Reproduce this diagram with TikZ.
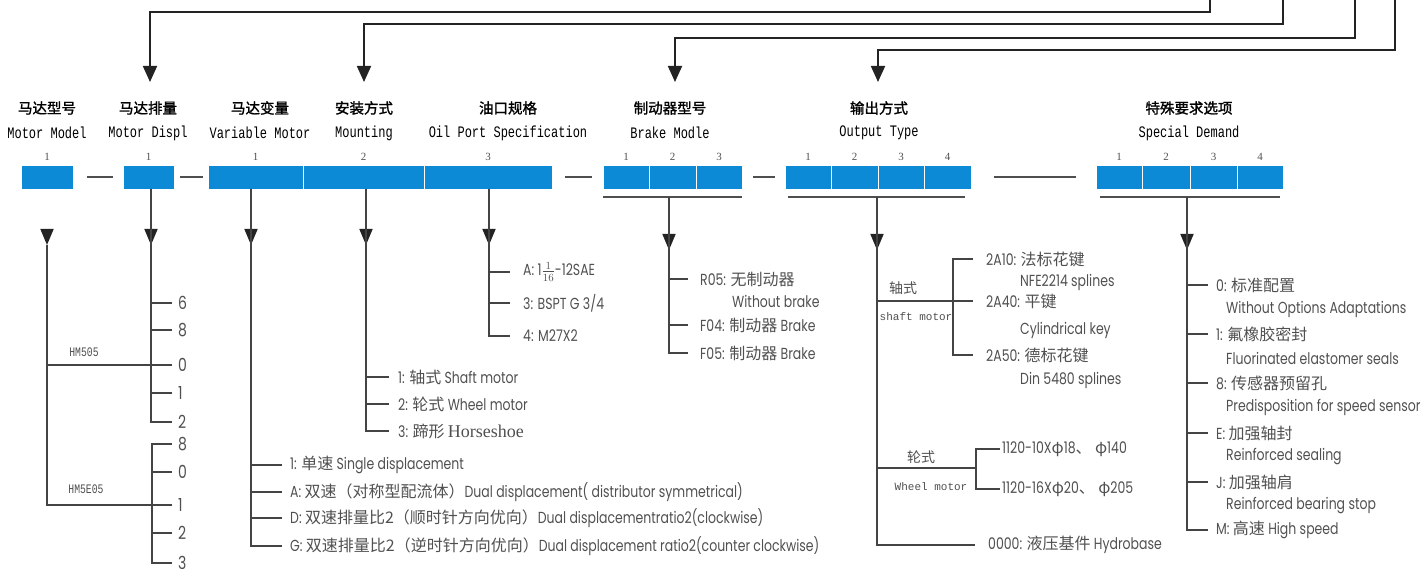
\documentclass[tikz,border=0pt]{standalone}
\usepackage{fontspec}
\setmainfont{Poppins}[FakeStretch=0.78]
\newfontfamily\cjk{Noto Sans CJK SC}
\newfontfamily\cjkb{Noto Sans CJK SC}[FakeBold=1.5]
\newfontfamily\mono{Liberation Mono}[FakeStretch=0.75]
\newfontfamily\tmono{Liberation Mono}
\newfontfamily\serif{Liberation Serif}
\usetikzlibrary{arrows.meta,positioning}
\definecolor{boxblue}{RGB}{12,138,214}
\definecolor{ink}{RGB}{35,35,35}
\definecolor{txt}{RGB}{80,80,80}
\tikzset{
	cell/.style={fill=boxblue, draw=white, line width=0.8pt, minimum height=24pt, inner sep=0pt},
	feed/.style={draw=ink, line width=1.8pt, -{Triangle[width=14pt,length=16pt]}},
	branch/.style={draw=ink!85, line width=1.7pt},
	joint/.style={draw=ink!80, line width=1.8pt},
	tip/.style={draw=ink, line width=1.7pt, -{Triangle[width=13pt,length=16pt]}},
	lbl/.style={anchor=west, inner sep=0pt, text=txt, font=\fontsize{16}{18}\selectfont},
	dig/.style={anchor=west, inner sep=0pt, text=txt, font=\fontsize{18}{20}\selectfont},
	hcn/.style={inner sep=0pt, font={\cjkb\fontsize{14.5}{16}\selectfont}},
	hen/.style={inner sep=0pt, font={\mono\fontsize{16}{18}\selectfont}},
	idx/.style={inner sep=0pt, text=txt, font={\serif\fontsize{11}{12}\selectfont}},
	tag/.style={inner sep=0pt, text=txt, font={\mono\fontsize{13}{14}\selectfont}},
	sub/.style={inner sep=0pt, text=txt, font={\tmono\fontsize{11}{12}\selectfont}}
}
\begin{document}
\begin{tikzpicture}[x=1pt,y=-1pt]
	\useasboundingbox (0,0) rectangle (1428,577);
	% headings
	\foreach \x/\n/\cn/\en in {47/mm/马达型号/Motor Model, 148/md/马达排量/Motor Displ,
		260/vm/马达变量/Variable Motor, 364/mt/安装方式/Mounting,
		508/op/油口规格/Oil Port Specification, 670/bk/制动器型号/Brake Modle,
		879/ot/输出方式/Output Type, 1189/sd/特殊要求选项/Special Demand} {
		\node[hcn] (\n c) at (\x,108) {\cn};
		\node[hen] (\n e) at (\x,133) {\en};
	}
	% code cells
	\foreach \x/\w/\n/\t in {47/52/m1/1, 148.5/51/d1/1, 255.5/95/v1/1, 363.5/121/v2/2, 488/128/v3/3,
		626/46/k1/1, 672.5/47/k2/2, 719/46/k3/3,
		808/46/o1/1, 854.5/47/o2/2, 901/46/o3/3, 947.5/47/o4/4,
		1119/46/s1/1, 1166/48/s2/2, 1213.5/47/s3/3, 1260/46/s4/4} {
		\node[cell, minimum width=\w pt] (\n) at (\x,177) {};
		\node[idx, above=4pt of \n] (\n i) {\t};
	}
	\draw[joint] ([xshift=14pt]m1.east) -- ([xshift=-10pt]d1.west);
	\draw[joint] ([xshift=6pt]d1.east) -- ([xshift=-5pt]v1.west);
	\draw[joint] ([xshift=13pt]v3.east) -- ([xshift=-11pt]k1.west);
	\draw[joint] ([xshift=11pt]k3.east) -- ([xshift=-10pt]o1.west);
	\draw[joint] ([xshift=23pt]o4.east) -- ([xshift=-20pt]s1.west);
	\draw[joint] ([yshift=-8pt]k1.south west) -- ([yshift=-8pt]k3.south east);
	\draw[joint] ([yshift=-8pt,xshift=3pt]o1.south west) -- ([yshift=-8pt,xshift=-6pt]o4.south east);
	\draw[joint] ([yshift=-8pt,xshift=4pt]s1.south west) -- ([yshift=-8pt,xshift=-3pt]s4.south east);
	% feed lines from the top
	\draw[feed] (1210,-2) |- (150,12) -- (150,82);
	\draw[feed] (1283,-2) |- (364,24) -- (364,82);
	\draw[feed] (1355,-2) |- (675,38) -- (675,82);
	\draw[feed] (1395,-2) |- (878,50) -- (878,82);
	% tips under the cells
	\foreach \x in {47,151,251,366,489} \draw[tip] (\x,229) -- (\x,245);
	\foreach \x in {669,877,1187} \draw[tip] (\x,234) -- (\x,250);
	% motor model / displacement
	\draw[branch] (47,245) |- (172,505);
	\draw[branch] (47,365) -- (172,365);
	\draw[branch] (151,189) |- (172,422);
	\foreach \y in {303,330,393} \draw[branch] (151,\y) -- (172,\y);
	\draw[branch] (172,444) -| (152,563) -- (172,563);
	\foreach \y in {472,533} \draw[branch] (152,\y) -- (172,\y);
	\node[tag] (hm1) at (84,352) {HM505};
	\node[tag] (hm2) at (86,489) {HM5E05};
	\foreach \y/\t [count=\i] in {303/6, 330/8, 365/0, 393/1, 422/2, 444/8, 472/0, 505/1, 533/2, 563/3}
		\node[dig] (dg\i) at (178,\y) {\t};
	% variable motor
	\draw[branch] (251,189) |- (282,546);
	\foreach \y in {465,492,518} \draw[branch] (251,\y) -- (282,\y);
	\node[lbl] (va1) at (290,465) {1: {\cjk 单速} Single displacement};
	\node[lbl] (va2) at (290,492) {A: {\cjk 双速（对称型配流体）}Dual displacement( distributor symmetrical)};
	\node[lbl] (va3) at (290,518) {D: {\cjk 双速排量比2（顺时针方向优向）}Dual displacementratio2(clockwise)};
	\node[lbl] (va4) at (290,546) {G: {\cjk 双速排量比2（逆时针方向优向）}Dual displacement ratio2(counter clockwise)};
	% mounting
	\draw[branch] (366,189) |- (389,431);
	\foreach \y in {377,404} \draw[branch] (366,\y) -- (389,\y);
	\node[lbl] (mo1) at (398,377) {1: {\cjk 轴式} Shaft motor};
	\node[lbl] (mo2) at (398,404) {2: {\cjk 轮式} Wheel motor};
	\node[lbl] (mo3) at (398,431) {3: {\cjk 蹄形} {\serif\fontsize{18}{20}\selectfont Horseshoe}};
	% oil port
	\draw[branch] (489,189) |- (510,336);
	\foreach \y in {272,303} \draw[branch] (489,\y) -- (510,\y);
	\node[lbl] (oi1) at (523,272) {A: 1$\frac{1}{16}$-12SAE};
	\node[lbl] (oi2) at (523,303) {3: BSPT G 3/4};
	\node[lbl] (oi3) at (523,336) {4: M27X2};
	% brake
	\draw[branch] (669,197) |- (688,353);
	\foreach \y in {279,325} \draw[branch] (669,\y) -- (688,\y);
	\node[lbl] (br1) at (700,279) {R05: {\cjk 无制动器}};
	\node[lbl] (br2) at (732,301) {Without brake};
	\node[lbl] (br3) at (700,325) {F04: {\cjk 制动器} Brake};
	\node[lbl] (br4) at (700,353) {F05: {\cjk 制动器} Brake};
	% output type
	\draw[branch] (877,197) |- (975,545);
	\draw[branch] (877,301) -- (973,301);
	\draw[branch] (973,259) -| (953,355) -- (973,355);
	\draw[branch] (877,468) -- (976,468);
	\draw[branch] (1000,449) -| (976,489) -- (1000,489);
	\node[inner sep=0pt, text=txt, font={\cjk\fontsize{14}{16}\selectfont}] (ax1) at (903,288) {轴式};
	\node[sub] (ax2) at (916,317) {shaft motor};
	\node[inner sep=0pt, text=txt, font={\cjk\fontsize{14}{16}\selectfont}] (wh1) at (921,457) {轮式};
	\node[sub] (wh2) at (931,487) {Wheel motor};
	\node[lbl] (ou1) at (986,259) {2A10: {\cjk 法标花键}};
	\node[lbl] (ou2) at (1020,282) {NFE2214 splines};
	\node[lbl] (ou3) at (986,301) {2A40: {\cjk 平键}};
	\node[lbl] (ou4) at (1020,330) {Cylindrical key};
	\node[lbl] (ou5) at (986,355) {2A50: {\cjk 德标花键}};
	\node[lbl] (ou6) at (1020,380) {Din 5480 splines};
	\node[lbl] (ou7) at (1002,449) {1120-10X{\cjk φ}18{\cjk 、} {\cjk φ}140};
	\node[lbl] (ou8) at (1002,489) {1120-16X{\cjk φ}20{\cjk 、} {\cjk φ}205};
	\node[lbl] (ou9) at (988,545) {0000: {\cjk 液压基件} Hydrobase};
	% special demand
	\draw[branch] (1187,197) |- (1208,530);
	\foreach \y in {285,334,383,433,482} \draw[branch] (1187,\y) -- (1208,\y);
	\foreach \y/\a/\b [count=\i] in {285/{0: {\cjk 标准配置}}/{Without Options Adaptations},
		334/{1: {\cjk 氟橡胶密封}}/{Fluorinated elastomer seals},
		383/{8: {\cjk 传感器预留孔}}/{Predisposition for speed sensor},
		433/{E: {\cjk 加强轴封}}/{Reinforced sealing},
		482/{J: {\cjk 加强轴肩}}/{Reinforced bearing stop}} {
		\node[lbl] (sp\i) at (1216,\y) {\a};
		\node[lbl] (sq\i) at (1226,\y+24) {\b};
	}
	\node[lbl] (sp6) at (1216,530) {M: {\cjk 高速} High speed};
\end{tikzpicture}
\end{document}
